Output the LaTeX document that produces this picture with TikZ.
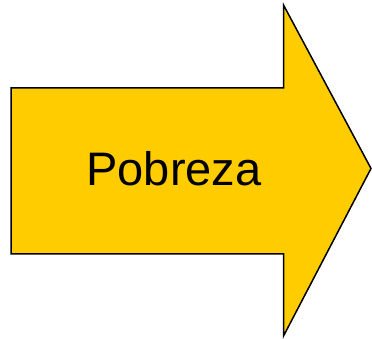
\documentclass[tikz,border=0pt]{standalone}
\usepackage{fontspec}
\setmainfont{Liberation Sans}
\definecolor{arrowyellow}{HTML}{FFCC00}
\tikzset{bigarrow/.style={fill=arrowyellow, draw=black, line width=1.5pt, line join=miter}}
\begin{document}
\begin{tikzpicture}[x=1pt,y=1pt]
\useasboundingbox (0,0) rectangle (372,339);
\draw[bigarrow] (11,251) -- (283.5,251) -- (283.5,334) -- (371,170.5) -- (283.5,3) -- (283.5,85) -- (11,85) -- cycle;
\node[anchor=base, inner sep=0pt, font=\fontsize{47}{52}\selectfont] (label) at (174,153) {Pobreza};
\end{tikzpicture}
\end{document}
